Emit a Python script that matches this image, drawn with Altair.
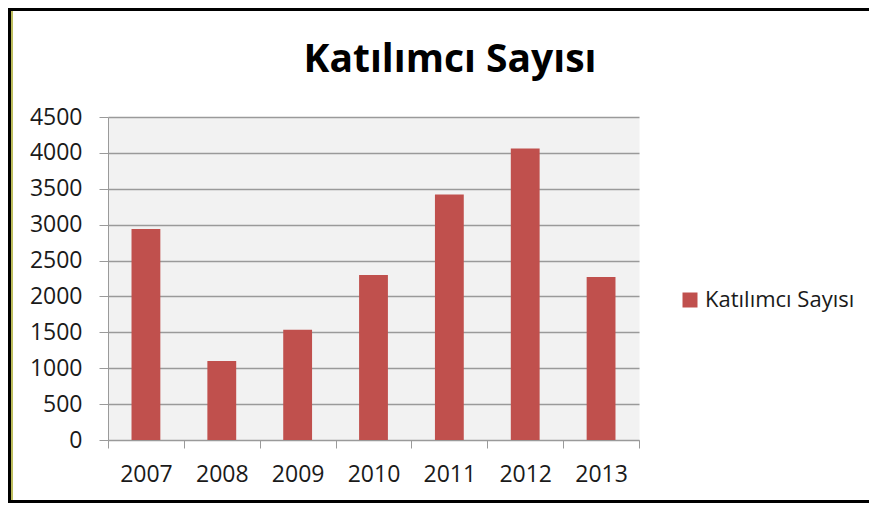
import altair as alt
import pandas as pd

years = ["2007", "2008", "2009", "2010", "2011", "2012", "2013"]
values = [2940, 1100, 1535, 2300, 3420, 4060, 2270]
series_name = "Katılımcı Sayısı"
chart_title = "Katılımcı Sayısı"
y_ticks = [0, 500, 1000, 1500, 2000, 2500, 3000, 3500, 4000, 4500]

df = pd.DataFrame({"year": years, "value": values, "series": [series_name] * len(years)})

FONT = "Open Sans"
GRID = "#9A9A9A"

bars = alt.Chart(df).mark_bar(width=alt.RelativeBandSize(0.38), color="#C0504D").encode(
    x=alt.X("year:N", sort=years, title=None,
            scale=alt.Scale(paddingInner=0, paddingOuter=0),
            axis=alt.Axis(labelAngle=0, tickBand="extent", tickSize=8, tickColor=GRID,
                          domainColor=GRID, labelFont=FONT, labelFontSize=23,
                          labelColor="#1a1a1a", labelPadding=15, grid=False)),
    y=alt.Y("value:Q", title=None,
            scale=alt.Scale(domain=[0, 4500], nice=False),
            axis=alt.Axis(values=y_ticks, format="d", tickSize=9, tickColor=GRID,
                          domainColor=GRID, gridColor=GRID, gridWidth=1.4,
                          labelFont=FONT, labelFontSize=23,
                          labelColor="#1a1a1a", labelPadding=17)),
    color=alt.Color("series:N", scale=alt.Scale(range=["#C0504D"]),
                    legend=alt.Legend(orient="none", legendX=571, legendY=172, title=None,
                                      symbolType="square", symbolSize=225,
                                      symbolStrokeWidth=0, labelFont=FONT,
                                      labelFontSize=22, labelColor="#1a1a1a",
                                      labelOffset=4, padding=0)),
)

frame_data = alt.Data(values=[{"t": chart_title}])
title = alt.Chart(frame_data).mark_text(
    font=FONT, fontSize=39, fontWeight="bold", color="black",
    align="center", baseline="alphabetic"
).encode(text="t:N", x=alt.value(342), y=alt.value(-45))

top_edge = alt.Chart(frame_data).mark_rule(color="black", strokeWidth=3).encode(
    x=alt.value(-100), x2=alt.value(761), y=alt.value(-107.5)
)
bottom_edge = alt.Chart(frame_data).mark_rule(color="black", strokeWidth=3).encode(
    x=alt.value(-100), x2=alt.value(761), y=alt.value(384.5)
)
left_edge = alt.Chart(frame_data).mark_rule(color="black", strokeWidth=3).encode(
    x=alt.value(-98.5), y=alt.value(-109), y2=alt.value(386)
)
yellow = alt.Chart(frame_data).mark_rule(color="#BDBD5E", strokeWidth=2).encode(
    x=alt.value(-96), y=alt.value(-106), y2=alt.value(383)
)

chart = alt.layer(bars, title, top_edge, bottom_edge, left_edge, yellow).properties(
    width=531,
    height=323,
    autosize=alt.AutoSizeParams(type="none"),
    padding={"left": 100, "top": 109, "right": 230, "bottom": 63},
    background="white",
).configure_view(fill="#F2F2F2", stroke="transparent")

chart.save("out.html", embed_options={"renderer": "svg", "actions": False})
